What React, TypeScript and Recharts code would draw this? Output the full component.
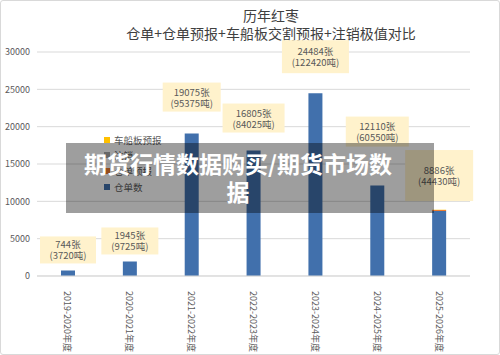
import React from "react"
import { BarChart, Bar, XAxis, YAxis, CartesianGrid, LabelList } from "recharts"

const seasons = ["2019-2020年度", "2020-2021年度", "2021-2022年度", "2022-2023年度", "2023-2024年度", "2024-2025年度", "2025-2026年度"]
const receipts = [744, 1945, 19075, 16805, 24484, 12110, 8700]
const receiptForecast = [0, 0, 0, 0, 0, 0, 150]
const cancelled = [0, 0, 0, 0, 0, 0, 0]
const vehicleForecast = [0, 0, 0, 0, 0, 0, 36]
const totalLots = [744, 1945, 19075, 16805, 24484, 12110, 8886]
const totalTons = [3720, 9725, 95375, 84025, 122420, 60550, 44430]
const yTicks = [0, 5000, 10000, 15000, 20000, 25000, 30000]

const data = seasons.map((s, i) => ({
  season: s,
  仓单数: receipts[i],
  仓单预报: receiptForecast[i],
  注销: cancelled[i],
  车船板预报: vehicleForecast[i],
}))

const series = [
  { key: "仓单数", color: "#4170AC" },
  { key: "仓单预报", color: "#ED7D31" },
  { key: "注销", color: "#A5A5A5" },
  { key: "车船板预报", color: "#FFC000" },
]

// label box layout (gap above bar, box size) as laid out in the original sheet
const noteGap = [7, 7, 22, 18, 20, 39, 10]
const noteW = [56, 57, 58, 62, 67, 63, 68]
const noteH = [27, 27, 29, 29, 33, 30, 51]

const font = "'Noto Sans CJK SC', 'Noto Sans', sans-serif"
const textGray = "#595959"

const NoteLabel = (props: any) => {
  const { x, y, width, index } = props
  const cx = Number(x) + Number(width) / 2
  const bottom = Number(y) - noteGap[index]
  const w = noteW[index]
  const h = noteH[index]
  const mid = bottom - h / 2
  return (
    <g>
      <rect x={cx - w / 2} y={bottom - h} width={w} height={h} fill="#FFF2CC" />
      <text x={cx} y={mid - 5.5} textAnchor="middle" dominantBaseline="central" fontSize={9.5} fill={textGray} fontFamily={font}>
        {totalLots[index]}张
      </text>
      <text x={cx} y={mid + 5.5} textAnchor="middle" dominantBaseline="central" fontSize={9.5} fill={textGray} fontFamily={font}>
        ({totalTons[index]}吨)
      </text>
    </g>
  )
}

const SeasonTick = (props: any) => {
  const { x, y, payload } = props
  return (
    <text
      x={0}
      y={0}
      transform={`translate(${x},${y + 7}) rotate(90)`}
      textAnchor="start"
      dominantBaseline="central"
      fontSize={9}
      fill={textGray}
      fontFamily={font}
    >
      {payload.value}
    </text>
  )
}

export default function App() {
  return (
    <div
      style={{
        position: "absolute",
        left: 0,
        top: 0,
        width: 500,
        height: 355,
        background: "#fff",
        border: "1px solid #D9D9D9",
        borderRadius: 3,
        boxSizing: "border-box",
        fontFamily: font,
        overflow: "hidden",
      }}
    >
      <div style={{ position: "absolute", left: 0, top: -1, width: 540, textAlign: "center", color: "#404040", fontSize: 14, lineHeight: "18px" }}>
        <div style={{ marginTop: 6 }}>历年红枣</div>
        <div>仓单+仓单预报+车船板交割预报+注销极值对比</div>
      </div>
      <div style={{ position: "absolute", left: -1, top: -1 }}>
        <BarChart width={500} height={355} data={data} margin={{ top: 52, right: 30, bottom: 3, left: 0 }} barSize={14}>
          <CartesianGrid vertical={false} stroke="#D9D9D9" />
          <XAxis
            dataKey="season"
            height={76}
            tickLine={false}
            axisLine={{ stroke: "#D9D9D9" }}
            tick={<SeasonTick />}
            interval={0}
          />
          <YAxis
            width={37}
            domain={[0, 30000]}
            ticks={yTicks}
            tickLine={false}
            axisLine={false}
            tickSize={0}
            tickMargin={7}
            tick={{ fontSize: 9, fill: textGray, fontFamily: font }}
          />
          {series.map((s, i) => (
            <Bar key={s.key} dataKey={s.key} stackId="a" fill={s.color} isAnimationActive={false}>
              {i === 0 && <LabelList dataKey={s.key} content={<NoteLabel />} />}
            </Bar>
          ))}
        </BarChart>
      </div>
      <div style={{ position: "absolute", left: 103, top: 131, fontSize: 9.5, color: textGray }}>
        {[...series].reverse().map((s) => (
          <div key={s.key} style={{ display: "flex", alignItems: "center", height: 15.6 }}>
            <span style={{ width: 6, height: 6, background: s.color, marginRight: 4 }} />
            <span>{s.key}</span>
          </div>
        ))}
      </div>
      <div
        style={{
          position: "absolute",
          left: 65,
          top: 142,
          width: 368,
          height: 70,
          background: "rgba(0,0,0,0.38)",
          boxSizing: "border-box",
          padding: "6px 34px 0 10px",
          color: "#fff",
          fontWeight: 700,
          fontSize: 23,
          lineHeight: "28px",
          textAlign: "center",
        }}
      >
        期货行情数据购买/期货市场数据
      </div>
    </div>
  )
}
